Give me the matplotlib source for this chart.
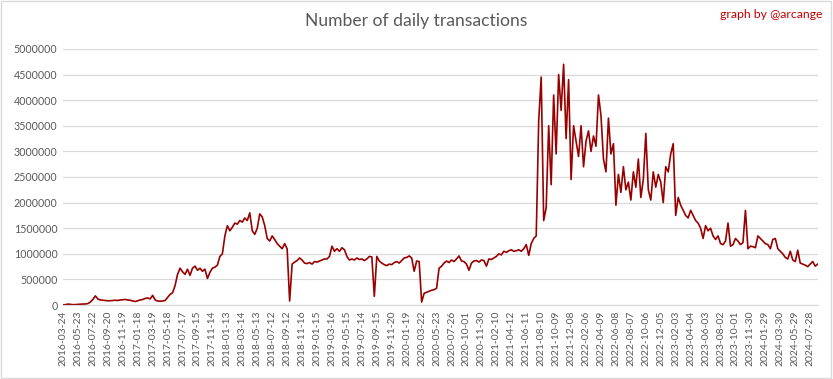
import matplotlib.pyplot as plt
import numpy as np
from matplotlib.patches import Rectangle
from matplotlib.ticker import FuncFormatter

# category labels shown on the x axis (one every 60 days in the data)
tick_labels = [
    '2016-03-24', '2016-05-23', '2016-07-22', '2016-09-20', '2016-11-19',
    '2017-01-18', '2017-03-19', '2017-05-18', '2017-07-17', '2017-09-15', '2017-11-14',
    '2018-01-13', '2018-03-14', '2018-05-13', '2018-07-12', '2018-09-12', '2018-11-16',
    '2019-01-15', '2019-03-16', '2019-05-15', '2019-07-14', '2019-09-15', '2019-11-20',
    '2020-01-19', '2020-03-22', '2020-05-23', '2020-07-26', '2020-10-01', '2020-11-30',
    '2021-02-10', '2021-04-12', '2021-06-11', '2021-08-10', '2021-10-09', '2021-12-08',
    '2022-02-06', '2022-04-09', '2022-06-08', '2022-08-07', '2022-10-06', '2022-12-05',
    '2023-02-03', '2023-04-04', '2023-06-03', '2023-08-02', '2023-10-01', '2023-11-30',
    '2024-01-29', '2024-03-30', '2024-05-29', '2024-07-28',
]

# daily transactions, every 10th day (thousands)
tx_2016_17 = [5, 8, 20, 15, 8, 10, 15, 18, 20, 22, 30, 60, 110, 180, 120, 100, 95, 90,
              85, 85, 90, 95, 90, 100, 105, 110, 100, 95, 80, 70, 85, 100, 110, 130, 140,
              120, 190, 100, 80, 75, 80, 90, 150, 210, 240, 380, 600, 720, 650, 600, 700,
              580, 720, 760, 680, 720, 660, 700, 520, 640, 720, 740, 780, 950, 1000]
tx_2018 = [1350, 1550, 1450, 1520, 1600, 1580, 1650, 1620, 1700, 1650, 1800, 1450, 1380,
           1500, 1780, 1720, 1550, 1300, 1250, 1350, 1280, 1200, 1150, 1100, 1200, 1100,
           80, 800, 840, 870, 920, 880, 820, 810, 830, 800, 850, 840, 860, 880, 900, 900,
           950, 1150, 1050]
tx_2019_20 = [1100, 1050, 1120, 1080, 950, 880, 900, 880, 920, 890, 900, 870, 900, 950,
              940, 170, 950, 860, 820, 790, 770, 800, 790, 830, 850, 820, 870, 920, 930,
              960, 920, 660, 860, 850, 60, 230, 250, 270, 290, 300, 330, 720, 760, 820,
              860, 830, 880, 850, 900, 960, 860, 850, 800, 680, 820, 860, 870, 840, 880,
              870, 760, 900, 890, 920, 950, 1000, 980, 1050, 1030, 1060, 1080, 1050]
tx_2021_22 = [1060, 1080, 1050, 1100, 1180, 970, 1200, 1300, 1350, 3600, 4450, 1650, 1900,
              3500, 2350, 4100, 2950, 4500, 3800, 4700, 3250, 4400, 2450, 3500, 3200, 2900,
              3500, 2700, 3200, 3400, 3000, 3300, 3100, 4100, 3700, 2850, 2600, 3650, 2950,
              3150, 1950, 2550, 2200, 2700, 2250, 2400, 2050, 2600, 2300, 2850, 2100, 2450,
              3350, 2250, 2050, 2600, 2300, 2550, 2400, 2000, 2700, 2600, 2950, 3150]
tx_2023_24 = [1750, 2100, 1950, 1850, 1750, 1700, 1850, 1750, 1650, 1600, 1500, 1300, 1550,
              1450, 1500, 1350, 1280, 1350, 1200, 1180, 1250, 1600, 1150, 1180, 1300, 1250,
              1180, 1220, 1850, 1100, 1150, 1140, 1120, 1350, 1300, 1250, 1200, 1180, 1100,
              1280, 1300, 1100, 1050, 1000, 930, 900, 1050, 880, 850, 1070, 820, 800, 780,
              750, 800, 850, 760, 800]

transactions = np.array(tx_2016_17 + tx_2018 + tx_2019_20 + tx_2021_22 + tx_2023_24) * 1000
day = np.arange(len(transactions)) * 10

fig = plt.figure(figsize=(8.33, 3.79), dpi=100)
ax = fig.add_axes([0.0756, 0.195, 0.906, 0.676])
plt.rcParams['font.family'] = ['Lato', 'DejaVu Sans']

ax.plot(day, transactions, c='#990000', lw=1.2)

ax.set_xlim(0, day[-1])
ax.set_ylim(0, 5000000)
ax.set_yticks(np.arange(0, 5000001, 500000))
ax.yaxis.set_major_formatter(FuncFormatter(lambda v, p: '%d' % v))
ax.set_xticks(np.arange(len(tick_labels)) * 60)
ax.set_xticklabels(tick_labels, rotation=90, fontsize=7.5, color='#595959', family='Lato')
for t in ax.get_yticklabels():
    t.set_fontsize(7.7)
    t.set_color('#595959')
    t.set_family('Lato')

ax.grid(axis='y', color='#D9D9D9', lw=0.9)
ax.set_axisbelow(True)
for s in ['top', 'right', 'left']:
    ax.spines[s].set_visible(False)
ax.spines['bottom'].set_color('#D9D9D9')
ax.tick_params(length=0, pad=4)

fig.text(0.5, 0.945, 'Number of daily transactions', ha='center', va='center',
         fontsize=12.6, color='#595959', family='Lato')
fig.text(0.987, 0.962, 'graph by @arcange', ha='right', va='center',
         fontsize=8.8, color='#C00000', family='Lato')
fig.patches.append(Rectangle((0.001, 0.002), 0.997, 0.995, transform=fig.transFigure,
                             fill=False, ec='#D9D9D9', lw=1))

fig.savefig('out.png', dpi=100)
